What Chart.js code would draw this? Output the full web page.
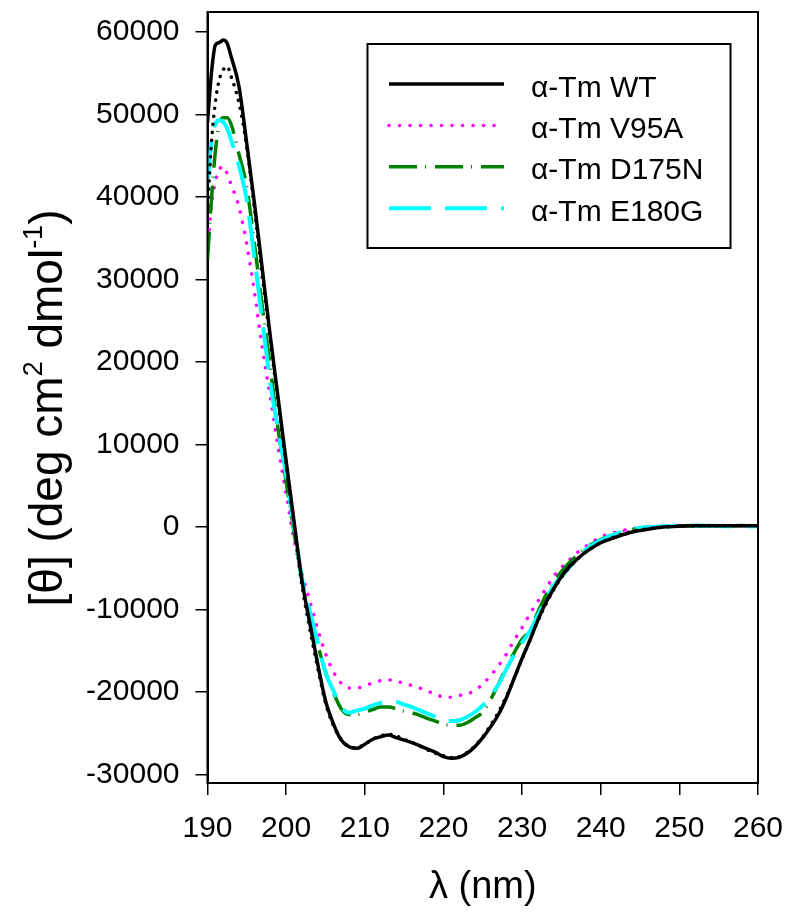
<!DOCTYPE html>
<html>
<head>
<meta charset="utf-8">
<script src="https://cdn.jsdelivr.net/npm/chart.js@4.4.1/dist/chart.umd.min.js"></script>
<style>
  body { margin: 0; background: #fff; }
  canvas { display: block; }
</style>
</head>
<body>
<canvas id="cd" width="790" height="919"></canvas>
<script>
// === CD spectra of alpha-tropomyosin variants ===
const wavelengths = [190, 190.5, 191, 191.5, 192, 192.5, 193,
  194, 195, 196, 197, 198, 199, 200, 201, 202, 203,
  204, 205, 206, 207, 208, 209, 210, 211, 212, 213,
  214, 215, 216, 217, 218, 219, 220, 221, 222, 223,
  224, 225, 226, 227, 228, 229, 230, 231, 232, 233,
  234, 235, 236, 237, 238,
  240, 242, 244, 246, 248, 250, 252, 254, 256, 258, 260];

const wtSolid = [49000, 55000, 58400, 58700, 59000, 58600, 57000,
  53400, 46400, 39000, 31000, 23000, 15500, 8000, 700, -6400, -11600,
  -16500, -21000, -23800, -25800, -26600, -26800, -26300, -25700, -25400, -25200,
  -25500, -25800, -26100, -26500, -26900, -27300, -27800, -28000, -27900, -27400,
  -26600, -25500, -24200, -22700, -20700, -18300, -15900, -13700, -11300, -9200,
  -7500, -6000, -4800, -3900, -3100,
  -1900, -1200, -600, -250, 0, 100, 150, 150, 150, 150, 150];

// second WT trace (dotted, not in legend)
const wtDotted = [38000, 46500, 51500, 54200, 55400, 55800, 54600,
  51400, 46000, 38300, 30200, 22400, 15000, 7500, 200, -7000, -12300,
  -17000, -21300, -24000, -25700, -26600, -26700, -26300, -25700, -25300, -25100,
  -25300, -25700, -26100, -26500, -27000, -27400, -27700, -27900, -27800, -27300,
  -26500, -25400, -24000, -22400, -20500, -18300, -16000, -13700, -11400, -9400,
  -7600, -6100, -4900, -3900, -3100,
  -1900, -1100, -500, -200, 0, 100, 150, 150, 150, 200, 200];

const v95a = [33500, 39000, 41800, 43300, 43700, 42800, 41500,
  38800, 34200, 28300, 21500, 15600, 9600, 4000, -1500, -5600, -8900,
  -12300, -15300, -17500, -18900, -19500, -19500, -19200, -18900, -18600, -18500,
  -18700, -18900, -19200, -19500, -19900, -20200, -20600, -20600, -20400, -20200,
  -19800, -19000, -18000, -16800, -15400, -13700, -12200, -10500, -9000, -7500,
  -6000, -4900, -4000, -3100, -2400,
  -1200, -600, -200, 0, 150, 200, 200, 200, 150, 150, 150];

const d175n = [32400, 39600, 45500, 48800, 49600, 49600, 48800,
  45200, 41100, 34100, 26400, 19200, 11700, 5500, -600, -6300, -10700,
  -14200, -17500, -20000, -22000, -22700, -22700, -22400, -22100, -21800, -21800,
  -22000, -22300, -22500, -22800, -23200, -23500, -23900, -24000, -24000, -23700,
  -23100, -22400, -20900, -19000, -17000, -15200, -13600, -12500, -10300, -8300,
  -6700, -5400, -4300, -3400, -2600,
  -1500, -800, -300, 0, 100, 150, 200, 150, 150, 200, 100];

const e180g = [41700, 46800, 48800, 49300, 49100, 48300, 46900,
  43800, 39600, 32400, 24800, 17400, 11700, 6300, 100, -6200, -10200,
  -13900, -17600, -19800, -21800, -22500, -22200, -22000, -21600, -21300, -21200,
  -21200, -21500, -21800, -22200, -22600, -23000, -23400, -23500, -23400, -23000,
  -22400, -21600, -20400, -19100, -17200, -15500, -14000, -12600, -10700, -8800,
  -7100, -6000, -4900, -3800, -2800,
  -1600, -800, -300, 0, 100, 150, 150, 150, 100, 100, 100];

const yTicks = [-30000, -20000, -10000, 0, 10000, 20000, 30000, 40000, 50000, 60000];
const xTicks = [190, 200, 210, 220, 230, 240, 250, 260];

const pts = vals => wavelengths.map((w, i) => ({ x: w, y: vals[i] }));
const FONT = '"Liberation Sans", Arial, sans-serif';

// boxed legend inside the plot
const boxLegend = {
  id: 'boxLegend',
  afterDraw(chart) {
    const ctx = chart.ctx;
    const items = chart.data.datasets.filter(d => d.legendRank != null).sort((a, b) => a.legendRank - b.legendRank);
    ctx.save();
    ctx.strokeStyle = '#000'; ctx.lineWidth = 2;
    ctx.strokeRect(367.5, 44, 363, 204);
    items.forEach((d, i) => {
      const y = 84 + i * 41.4;
      ctx.beginPath();
      ctx.strokeStyle = d.borderColor; ctx.lineWidth = d.borderWidth;
      ctx.lineCap = d.borderCapStyle || 'butt';
      ctx.setLineDash(d.borderDash || []);
      ctx.moveTo(389, y); ctx.lineTo(504, y);
      ctx.stroke();
      ctx.setLineDash([]);
      ctx.fillStyle = '#000';
      ctx.font = '30px ' + FONT;
      ctx.textBaseline = 'alphabetic';
      ctx.fillText(d.label, 531, y + 12.5);
    });
    ctx.restore();
  }
};

// closes the frame (top + right)
const frame = {
  id: 'frame',
  afterDatasetsDraw(chart) {
    const { left, right, top, bottom } = chart.chartArea;
    const ctx = chart.ctx;
    ctx.save();
    ctx.strokeStyle = '#000'; ctx.lineWidth = 2;
    ctx.strokeRect(left, top, right - left, bottom - top);
    ctx.restore();
  }
};

// y title with real superscripts
const yTitle = {
  id: 'yTitle',
  afterDraw(chart) {
    const ctx = chart.ctx;
    const parts = [['[θ] (deg cm', 0], ['2', 1], [' dmol', 0], ['-1', 1], [')', 0]];
    const big = '46px ' + FONT, small = '27px ' + FONT;
    let len = 0;
    parts.forEach(([t, s]) => { ctx.font = s ? small : big; len += ctx.measureText(t).width; });
    ctx.save();
    ctx.translate(46, 408);
    ctx.rotate(-Math.PI / 2);
    ctx.fillStyle = '#000';
    ctx.textBaseline = 'alphabetic';
    let x = -len / 2;
    parts.forEach(([t, s]) => {
      ctx.font = s ? small : big;
      ctx.fillText(t, x, s ? -4 : 16);
      x += ctx.measureText(t).width;
    });
    ctx.restore();
  }
};

const line = (label, data, color, width, dash, cap, order, rank) => ({
  label, data: pts(data), borderColor: color, borderWidth: width, borderDash: dash,
  borderCapStyle: cap, pointRadius: 0, fill: false, cubicInterpolationMode: 'monotone',
  order, legendRank: rank
});

new Chart(document.getElementById('cd'), {
  type: 'line',
  data: {
    datasets: [
      line('α-Tm WT', wtSolid, '#000000', 3.5, [], 'butt', 0, 0),
      line('α-Tm WT 2', wtDotted, '#000000', 3.5, [0.1, 8], 'round', 1, null),
      line('α-Tm V95A', v95a, '#ff00ff', 3.5, [0.1, 10.4], 'round', 4, 1),
      line('α-Tm D175N', d175n, '#008000', 3.5, [28, 8, 1, 9], 'butt', 3, 2),
      line('α-Tm E180G', e180g, '#00ffff', 4, [42, 14], 'butt', 2, 3)
    ]
  },
  options: {
    responsive: false,
    animation: false,
    layout: { padding: { left: 0, right: 32, top: 12, bottom: 0 } },
    plugins: { legend: { display: false }, tooltip: { enabled: false } },
    scales: {
      x: {
        type: 'linear', min: 190, max: 260,
        afterBuildTicks: s => { s.ticks = xTicks.map(v => ({ value: v })); },
        afterFit: s => { s.height = 136; s.paddingLeft = 0; s.paddingRight = 0; },
        grid: { drawOnChartArea: false, drawTicks: true, tickLength: 12, color: '#000', lineWidth: 1.5 },
        border: { display: true, color: '#000', width: 2 },
        ticks: { color: '#000', padding: 16, maxRotation: 0, font: { family: FONT, size: 30 } },
        title: { display: true, text: 'λ (nm)', color: '#000', font: { family: FONT, size: 38 }, padding: { bottom: 9 } }
      },
      y: {
        type: 'linear', min: -31000, max: 62400,
        afterBuildTicks: s => { s.ticks = yTicks.map(v => ({ value: v })); },
        afterFit: s => { s.width = 207.5; s.paddingTop = 0; s.paddingBottom = 0; },
        grid: { drawOnChartArea: false, drawTicks: true, tickLength: 12, color: '#000', lineWidth: 1.5 },
        border: { display: true, color: '#000', width: 2 },
        ticks: { color: '#000', padding: 16, callback: v => String(v), font: { family: FONT, size: 30 } }
      }
    }
  },
  plugins: [frame, boxLegend, yTitle]
});
</script>
</body>
</html>
